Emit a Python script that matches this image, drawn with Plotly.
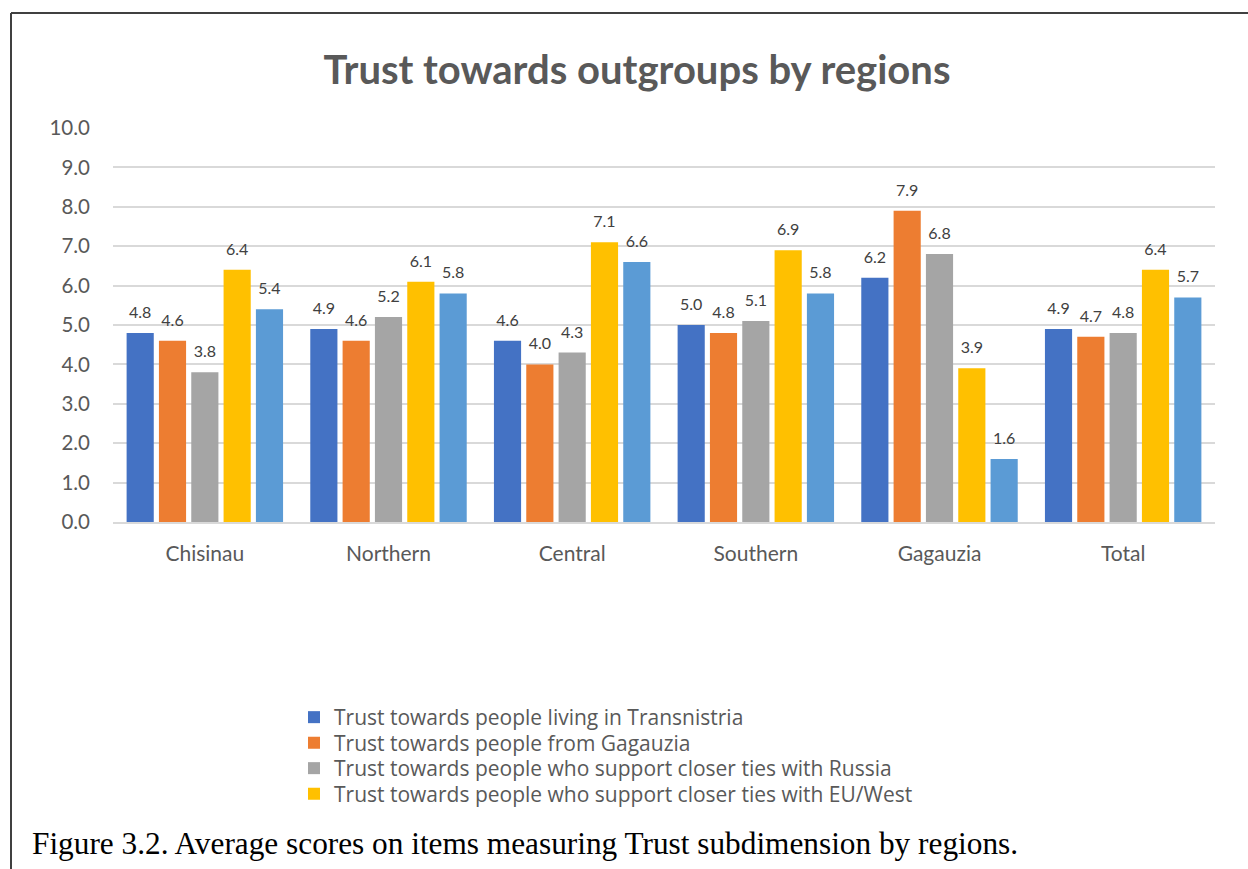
import plotly.graph_objects as go

# Regions on the category axis
regions = ["Chisinau", "Northern", "Central", "Southern", "Gagauzia", "Total"]

# Average trust scores per outgroup (0-10 scale)
transnistria = [4.8, 4.9, 4.6, 5.0, 6.2, 4.9]
gagauzia = [4.6, 4.6, 4.0, 4.8, 7.9, 4.7]
russia_ties = [3.8, 5.2, 4.3, 5.1, 6.8, 4.8]
eu_west_ties = [6.4, 6.1, 7.1, 6.9, 3.9, 6.4]
fifth_item = [5.4, 5.8, 6.6, 5.8, 1.6, 5.7]

series_names = [
    "Trust towards people living in Transnistria",
    "Trust towards people from Gagauzia",
    "Trust towards people who support closer ties with Russia",
    "Trust towards people who support closer ties with EU/West",
    "Fifth trust item",
]
series_values = [transnistria, gagauzia, russia_ties, eu_west_ties, fifth_item]
series_colors = ["#4472C4", "#ED7D31", "#A5A5A5", "#FFC000", "#5B9BD5"]
in_legend = [True, True, True, True, False]

y_ticks = [0, 1, 2, 3, 4, 5, 6, 7, 8, 9, 10]
y_tick_text = [f"{v:.1f}" for v in y_ticks]

FONT = "Lato"
W, H = 1248, 869
L, R, T, B = 113, 33, 128, 347
PW, PH = W - L - R, H - T - B


def px_x(x):
    return (x - L) / PW


def px_y(y):
    return (H - B - y) / PH


# one legend box per entry so the rows can sit closer together
legend_ids = ["legend", "legend2", "legend3", "legend4", "legend"]
legend_rows = [717.5, 743, 768.5, 794]

fig = go.Figure()
for i, (name, vals, color, show, lg) in enumerate(
        zip(series_names, series_values, series_colors, in_legend, legend_ids)):
    fig.add_trace(go.Bar(
        x=regions,
        y=vals,
        name=name,
        offsetgroup=str(i),
        marker=dict(color=color, line=dict(width=0)),
        showlegend=show,
        legend=lg,
    ))

# value labels, placed over each bar of the group
for i, vals in enumerate(series_values):
    fig.add_trace(go.Scatter(
        x=regions,
        y=vals,
        offsetgroup=str(i),
        mode="markers+text",
        marker=dict(size=16, opacity=0),
        text=[f"{v:.1f}" for v in vals],
        textposition="top center",
        textfont=dict(family=FONT, size=16, color="#404040"),
        cliponaxis=False,
        showlegend=False,
        hoverinfo="skip",
    ))

legend_style = dict(
    x=px_x(294),
    xanchor="left",
    yanchor="middle",
    orientation="v",
    font=dict(family="Open Sans", size=21, color="#595959"),
    itemwidth=30,
    bgcolor="rgba(0,0,0,0)",
)
legend_layout = {
    lid: dict(legend_style, y=px_y(row))
    for lid, row in zip(["legend", "legend2", "legend3", "legend4"], legend_rows)
}

fig.update_layout(
    width=W,
    height=H,
    margin=dict(l=L, r=R, t=T, b=B),
    paper_bgcolor="white",
    plot_bgcolor="white",
    barmode="group",
    scattermode="group",
    bargap=0.12,
    bargroupgap=0.16,
    font=dict(family=FONT, color="#595959"),
    title=dict(
        text="<b>Trust towards outgroups by regions</b>",
        x=637 / W,
        xanchor="center",
        y=1 - 70 / H,
        yanchor="middle",
        font=dict(family=FONT, size=40, color="#595959"),
    ),
    xaxis=dict(
        showgrid=False,
        showline=True,
        linecolor="#D9D9D9",
        linewidth=2,
        ticks="",
        tickfont=dict(family=FONT, size=21, color="#595959"),
        ticklabelstandoff=12,
    ),
    yaxis=dict(
        range=[0, 10],
        tickvals=y_ticks,
        ticktext=y_tick_text,
        showgrid=True,
        gridcolor="#D9D9D9",
        gridwidth=1.5,
        zeroline=False,
        showline=False,
        ticks="",
        tickfont=dict(family=FONT, size=20.5, color="#595959"),
        ticklabelstandoff=22,
    ),
    shapes=[
        # frame lines around the chart
        dict(type="line", xref="paper", yref="paper",
             x0=px_x(11), x1=px_x(W + 5), y0=px_y(13), y1=px_y(13),
             line=dict(color="#404040", width=2)),
        dict(type="line", xref="paper", yref="paper",
             x0=px_x(11), x1=px_x(11), y0=px_y(13), y1=px_y(H + 5),
             line=dict(color="#404040", width=2)),
    ],
    annotations=[
        dict(
            text="Figure 3.2. Average scores on items measuring Trust subdimension by regions.",
            xref="paper", yref="paper",
            x=px_x(30), y=px_y(843),
            xanchor="left", yanchor="middle",
            showarrow=False,
            font=dict(family="Liberation Serif", size=31.3, color="black"),
        )
    ],
    **legend_layout,
)

fig.write_html("out.html")
